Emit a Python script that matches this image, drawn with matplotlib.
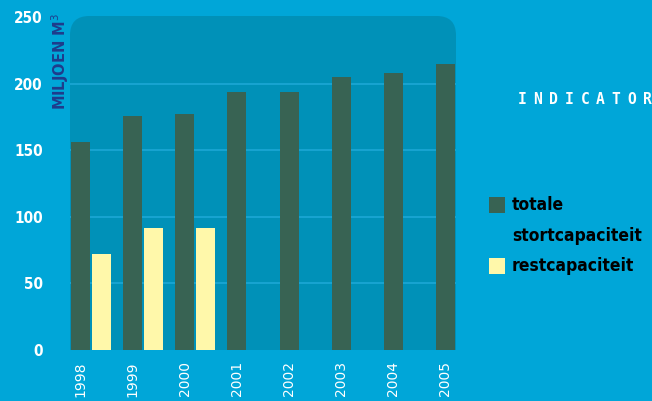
import matplotlib.pyplot as plt
from matplotlib.patches import FancyBboxPatch, Rectangle
import numpy as np

years = ['1998', '1999', '2000', '2001', '2002', '2003', '2004', '2005']
totale = [156, 176, 177, 194, 194, 205, 208, 215]
rest = [72, 92, 92]
legend_labels = ['totale', 'stortcapaciteit', 'restcapaciteit']

bg = '#00a6d8'
area = '#0091b8'
dark = '#386353'
yellow = '#fff8aa'
grid = '#1aa6d3'
fam = ['DejaVu Sans']

fig = plt.figure(figsize=(6.52, 4.01), dpi=100, facecolor=bg)
ax = fig.add_axes([70 / 652, 51 / 401, 386 / 652, 334 / 401])
ax.set_facecolor('none')

# rounded plot area (only top corners visible, bottom clipped by axes)
box = FancyBboxPatch((0, -0.3), 1, 1.3, transform=ax.transAxes,
                     boxstyle='round,pad=0,rounding_size=0.05',
                     mutation_aspect=386 / 334, fc=area, ec='none', zorder=0)
ax.add_patch(box)

x = np.arange(len(years))
w = 0.364
ax.bar(x, totale, width=w, color=dark, zorder=3)
ax.bar(x[:len(rest)] + 0.403, rest, width=w, color=yellow, zorder=3)

ax.set_xlim(-0.201, 7.202)
ax.set_ylim(0, 251)
ax.set_yticks([0, 50, 100, 150, 200, 250])
for v in [50, 100, 150, 200]:
    ax.axhline(v, color=grid, lw=1.3, zorder=1)

ax.set_xticks(x)
ax.set_xticklabels(years, rotation=90, color='white', fontsize=10,
                   va='top')
for lab in ax.get_yticklabels():
    lab.set_color('white')
    lab.set_fontweight('bold')
    lab.set_fontsize(11)
    lab.set_fontstretch('condensed')
ax.tick_params(axis='x', length=0, pad=8)
ax.tick_params(axis='y', length=0, pad=19.5)
for s in ax.spines.values():
    s.set_visible(False)

fig.text(60 / 652, 1 - 13 / 401, 'MILJOEN M$^3$', rotation=90, ha='center',
         va='top', color='#1f3c8c', fontsize=10.5, fontweight='bold',
         family=fam)

# pixel-style heading at the right edge
for i, ch in enumerate('INDICATOR'):
    fig.text((522 + 15.7 * i) / 652, 1 - 100 / 401, ch, ha='center',
             va='center', color='white', fontsize=10.5, fontweight='bold',
             family='DejaVu Sans Mono')

# legend
fig.patches.append(Rectangle((489 / 652, 1 - 213 / 401), 16 / 652, 16 / 401,
                             transform=fig.transFigure, fc=dark, ec='none'))
fig.patches.append(Rectangle((489 / 652, 1 - 274 / 401), 16 / 652, 16 / 401,
                             transform=fig.transFigure, fc=yellow, ec='none'))
for label, yp in zip(legend_labels, [205, 236, 266]):
    fig.text(512 / 652, 1 - yp / 401, label, ha='left', va='center',
             fontsize=12.5, fontweight='bold', fontstretch='condensed',
             color='black', family=fam)

fig.savefig('out.png', dpi=100, facecolor=bg)
